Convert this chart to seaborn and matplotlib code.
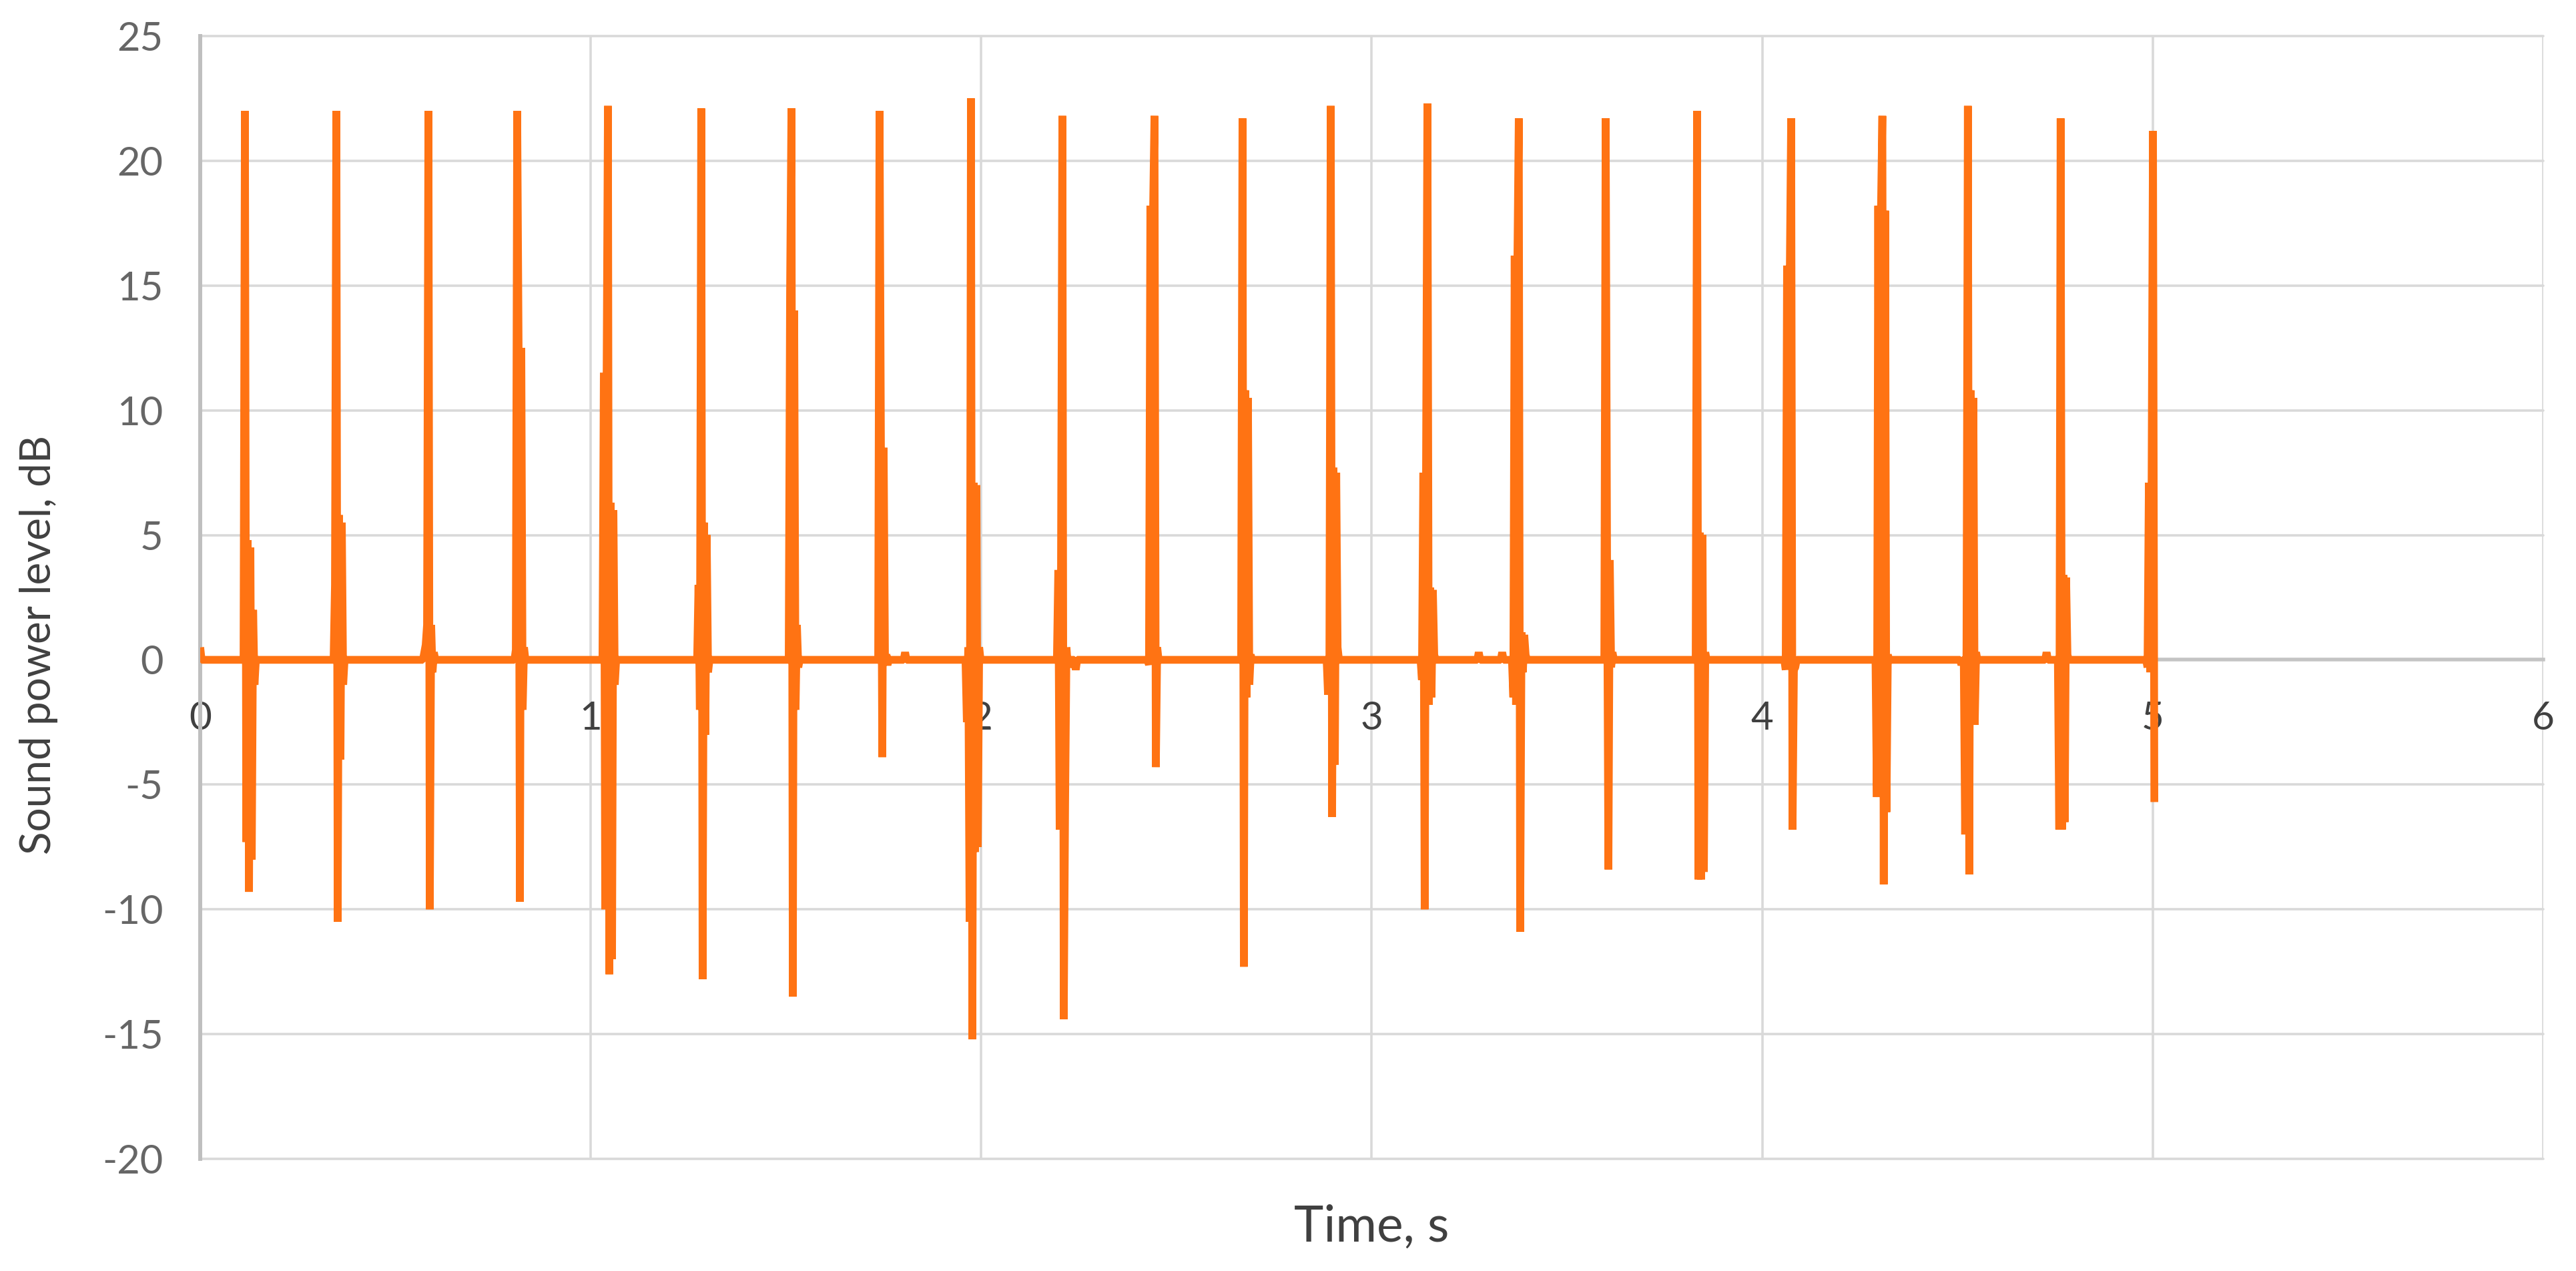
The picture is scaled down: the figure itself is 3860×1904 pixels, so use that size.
import numpy as np
import pandas as pd
import matplotlib
matplotlib.use("Agg")
import matplotlib.pyplot as plt
import seaborn as sns

# --- data ------------------------------------------------------------------
# time of the first sample of each burst (s) and the sampled levels (dB)
sample_step = 0.0035
burst_start = [
    0.1145, 0.3451, 0.5739, 0.8082, 1.0336, 1.2760, 1.5105, 1.7396, 1.7600,
    1.8050, 1.9632, 2.1973, 2.2420, 2.4296, 2.6690, 2.8880, 3.1285, 3.2740,
    3.3340, 3.3625, 3.5990, 3.8330, 4.0600, 4.2935, 4.5100, 4.5195, 4.7280,
    4.7605, 4.9865,
]
burst_values = [
    [22.0, -7.3, 4.8, -9.3, 4.5, -8.0, 2.0, -1.0],
    [3.0, 22.0, -10.5, 5.8, -4.0, 5.5, -1.0],
    [0.3, 0.6, 1.4, 22.0, -10.0, 1.4, -0.5, 0.3],
    [0.4, 22.0, 12.7, -9.7, 12.5, -2.0, 0.5],
    [11.5, -10.0, 11.0, 22.2, -12.6, 6.3, -12.0, 6.0, -1.0],
    [3.0, -2.0, 22.1, -12.8, 5.5, -3.0, 5.0, -0.5],
    [14.7, 22.1, -13.5, 14.0, -2.0, 1.4, -0.3],
    [22.0, 8.6, -3.9, 8.5, -0.2, 0.2],
    [-0.2],
    [0.3],
    [-2.5, 0.5, -10.5, 22.5, -15.2, 7.1, -7.7, 7.0, -7.5, 0.5],
    [3.6, -6.8, 3.5, 21.8, -14.4, -5.7, 0.5, -0.3],
    [-0.4],
    [-0.2, 18.2, 0.0, 18.0, 21.8, -4.3, 0.5],
    [21.7, -12.3, 10.8, -1.5, 10.5, -1.0, 0.2],
    [-1.4, -0.5, 22.2, -6.3, 7.7, -4.2, 7.5, 0.5],
    [-0.8, 7.5, -10.0, 7.3, 22.3, -1.8, 2.9, -1.5, 2.8, 0.2],
    [0.3],
    [0.3],
    [-1.5, 16.2, -1.8, 16.0, 21.7, -10.9, 1.1, -0.5, 1.0, 0.2],
    [21.7, 4.2, -8.4, 4.0, -0.3, 0.3],
    [22.0, -8.8, 5.1, -8.8, 5.0, -8.5, 0.3],
    [-0.4, 15.8, -0.3, 15.5, 21.7, -6.8, -0.4, -0.3],
    [-5.5, 18.2, -5.5, 18.0, 21.8, -9.0, 18.0, -6.1, 0.2],
    [-0.2],
    [-7.0, 0.5, 22.2, -8.6, 10.8, -2.6, 10.5, -2.6, 0.3],
    [0.3],
    [-6.8, 21.7, -6.8, 3.4, -6.5, 3.3, 0.2],
    [-0.3, 7.1, -0.5, 7.0, 21.2, -5.7],
]
start_level = 0.5

x_ticks = [0, 1, 2, 3, 4, 5, 6]
y_ticks = [-20, -15, -10, -5, 0, 5, 10, 15, 20, 25]

# --- build the trace --------------------------------------------------------
times = [0.0, sample_step]
levels = [start_level, 0.0]
for i, (t0, vals) in enumerate(zip(burst_start, burst_values)):
    times.append(t0 - sample_step)
    levels.append(0.0)
    for k, v in enumerate(vals):
        times.append(t0 + k * sample_step)
        levels.append(v)
    if i < len(burst_start) - 1:
        times.append(t0 + len(vals) * sample_step)
        levels.append(0.0)
df = pd.DataFrame({"time": times, "level": levels})

# --- figure -----------------------------------------------------------------
sns.set_theme(style="white")
plt.rcParams["font.family"] = ["Lato", "DejaVu Sans"]
plt.rcParams["axes.unicode_minus"] = False

W, H = 3860, 1904
fig = plt.figure(figsize=(W / 100, H / 100), dpi=100)
ax = fig.add_axes([300 / W, 1 - 1736 / H, 3511 / W, 1682 / H])

grid_col = "#D9D9D9"
sns.lineplot(data=df, x="time", y="level", ax=ax, sort=False, estimator=None,
             color="#FF7313", linewidth=8.4, solid_joinstyle="bevel",
             solid_capstyle="butt", zorder=3)

ax.set_xlim(0, 6)
ax.set_ylim(-20, 25)
ax.set_xticks(x_ticks)
ax.set_yticks(y_ticks)
ax.grid(True, color=grid_col, linewidth=2.6, zorder=0)
for gl in ax.get_xgridlines() + ax.get_ygridlines():
    gl.set_clip_on(False)
ax.set_axisbelow(True)

for side in ["top", "right"]:
    ax.spines[side].set_visible(False)
ax.spines["left"].set_color("#BFBFBF")
ax.spines["left"].set_linewidth(4.3)
ax.spines["bottom"].set_position(("data", 0))
ax.spines["bottom"].set_color("#C4C4C4")
ax.spines["bottom"].set_linewidth(4.0)
ax.spines["bottom"].set_zorder(2)

ax.tick_params(axis="x", length=0, pad=44, labelsize=42, labelcolor="#404040")
ax.tick_params(axis="y", length=0, pad=40, labelsize=43, labelcolor="#666666")
ax.set_xlabel("")
ax.set_ylabel("")

fig.text(2055 / W, 1 - 1860 / H, "Time, s", ha="center", va="baseline",
         fontsize=54, color="#404040")
fig.text(58 / W, 1 - 966 / H, "Sound power level, dB", ha="center",
         va="center", rotation=90, fontsize=46, color="#404040")

fig.savefig("out.png", dpi=100, facecolor="white")
plt.close(fig)
